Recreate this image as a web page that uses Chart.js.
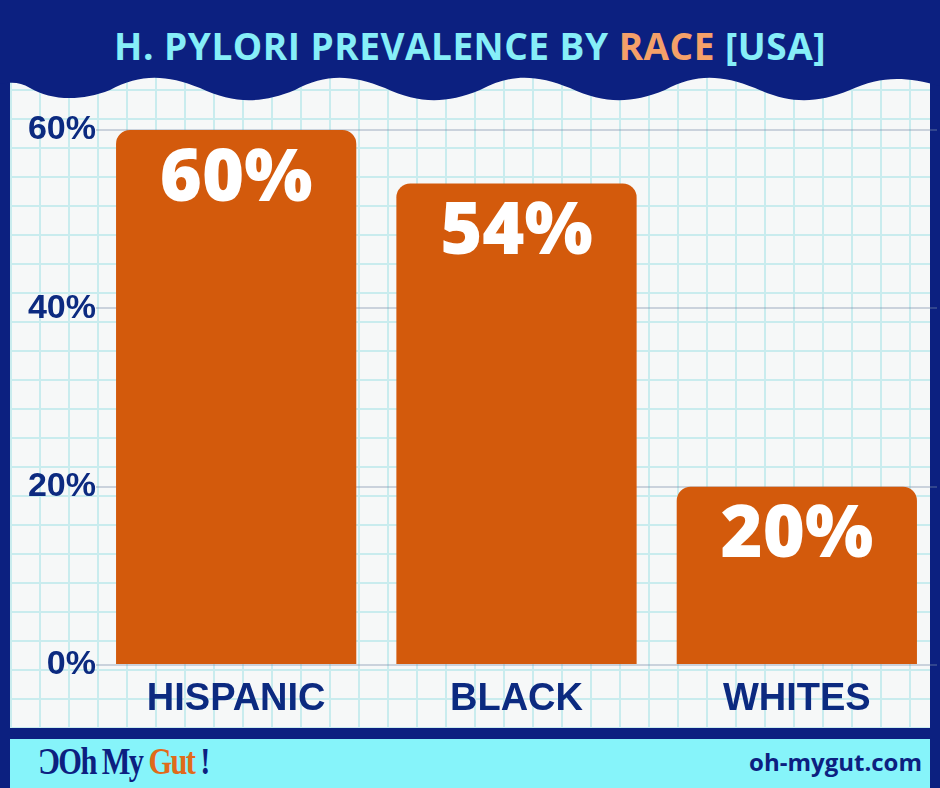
<!DOCTYPE html>
<html><head><meta charset="utf-8">
<script src="https://cdn.jsdelivr.net/npm/chart.js@4"></script>
<style>
html,body{margin:0;padding:0;width:940px;height:788px;overflow:hidden;background:#0c2080;}
#paper{position:absolute;left:10px;top:60px;width:920px;height:668px;background-color:#f6f8f8;
background-image:linear-gradient(#c9ecee 2px,transparent 2px),linear-gradient(90deg,#c9ecee 2px,transparent 2px);
background-size:29px 29px;}
#wave{position:absolute;left:0;top:0;}
#title{position:absolute;left:0;top:20px;width:940px;text-align:center;font:bold 37px "Open Sans";color:#86eef8;letter-spacing:0.5px}
#title span{color:#f5a069}
#footer{position:absolute;left:10px;top:739px;width:920px;height:49px;background:#86f4fa;}
#logo{position:absolute;left:28px;top:0px;font:bold 38px "Liberation Serif";color:#0c2080;letter-spacing:-2px;transform:scaleX(0.8);transform-origin:left}
#logo b{color:#e06a1a}
#site{position:absolute;right:8px;top:6px;font:bold 24px "Open Sans";color:#0c2080}
canvas{position:absolute;left:0;top:0}
</style></head><body>
<div id="paper"></div>
<svg id="wave" width="940" height="110"><path d="M0 0 H940 V86 C905 76 880 76 850 90 C815 104 790 104 755 88 C720 74 695 74 665 90 C630 104 605 104 570 88 C535 74 510 74 480 90 C445 104 420 104 385 88 C350 74 325 74 295 90 C260 104 235 104 200 88 C165 74 140 74 110 90 C80 102 50 100 30 88 C20 82 12 82 0 84 Z" fill="#0c2080"/></svg>
<div id="title">H. PYLORI PREVALENCE BY <span>RACE</span> [USA]</div>
<div id="footer"><div id="logo">ƆOh My <b>Gut</b> !</div><div id="site">oh-mygut.com</div></div>
<canvas id="c" width="940" height="788"></canvas>
<script>
const categories=["HISPANIC","BLACK","WHITES"];
const values=[60,54,20];
const tickValues=[0,20,40,60];
const labelPlugin={id:'lbl',afterDatasetsDraw(ch){const ctx=ch.ctx;const m=ch.getDatasetMeta(0);ctx.save();ctx.fillStyle='#fff';ctx.font='800 72px "Open Sans"';ctx.textAlign='center';ctx.textBaseline='middle';m.data.forEach((b,i)=>{ctx.fillText(values[i]+'%',b.x,b.y+50);});ctx.restore();}};
new Chart(document.getElementById('c'),{type:'bar',
data:{labels:categories,datasets:[{data:values,backgroundColor:'#d35a0c',borderRadius:{topLeft:14,topRight:14},borderSkipped:'bottom',barPercentage:0.857,categoryPercentage:1}]},
options:{responsive:false,animation:false,layout:{padding:{top:130,bottom:58,right:3,left:0}},
plugins:{legend:{display:false},tooltip:{enabled:false}},
scales:{
x:{grid:{display:false},border:{display:false},ticks:{color:'#0c2a80',font:{family:'Liberation Sans',size:38,weight:'bold'},padding:4},afterFit(s){s.height=65;}},
y:{min:0,max:60,afterBuildTicks(s){s.ticks=tickValues.map(v=>({value:v}));},border:{display:false},grid:{color:'rgba(120,140,170,0.35)',lineWidth:2,drawTicks:false},
ticks:{color:'#0c2a80',font:{family:'Liberation Sans',size:34,weight:'bold'},padding:0,callback:v=>v+'%'},afterFit(s){s.width=96;}}}},
plugins:[labelPlugin]});
</script></body></html>
